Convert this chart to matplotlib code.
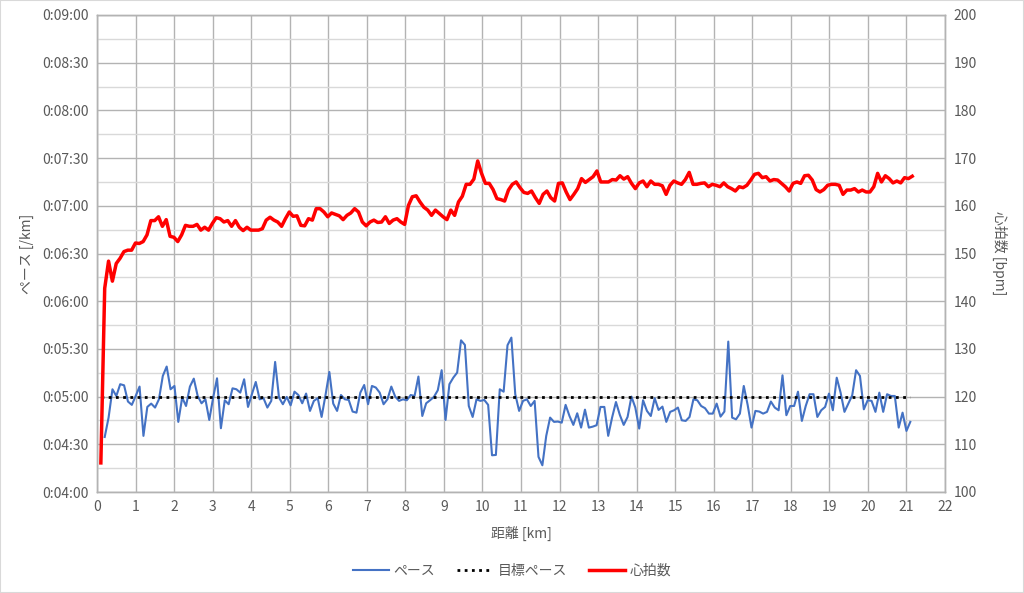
import numpy as np
import matplotlib
matplotlib.use("Agg")
import matplotlib.pyplot as plt
from matplotlib.ticker import FuncFormatter, MultipleLocator
from matplotlib.patches import Rectangle

plt.rcParams['font.family'] = ['Noto Sans CJK JP', 'DejaVu Sans']

# Pace [s/km], samples every ~0.1 km starting at 0.2 km
pace = [
    274.6, 286.8, 304.6, 300.4, 307.8, 307.1, 296.9, 294.8, 300.4, 306.3,
    275.3, 293.5, 295.6, 293.1, 298.3, 313.0, 318.9, 304.6, 306.7, 284.1,
    299.4, 294.1, 306.3, 311.3, 300.4, 295.8, 298.3, 285.3, 299.4, 311.5,
    280.1, 297.7, 295.2, 305.2, 304.6, 302.5, 310.9, 293.5, 301.5, 309.2,
    298.3, 299.0, 293.1, 297.3, 321.8, 299.4, 295.2, 299.8, 294.5, 303.1,
    301.0, 295.8, 301.9, 291.0, 297.3, 299.0, 287.2, 300.8, 315.5, 295.6,
    291.0, 301.0, 298.3, 297.9, 290.6, 289.9, 302.5, 307.3, 295.2, 306.7,
    305.7, 302.5, 295.2, 298.3,
    306.3, 300.0, 297.3, 298.3, 297.7, 301.0, 300.4, 312.6, 287.8, 295.8,
    297.7, 299.8, 304.0, 316.6, 285.3, 307.8, 311.9, 315.1, 335.4, 332.5,
    294.1, 287.2, 298.3, 297.3, 297.9, 294.8, 263.1, 263.3, 304.6, 303.1,
    332.3, 337.1, 301.5, 291.0, 297.3, 298.3, 294.1, 297.3, 262.1, 256.8,
    275.3, 286.8, 284.1, 284.3, 283.6, 294.8, 287.8, 282.2, 289.5, 280.5,
    291.8, 280.5, 281.1, 282.0, 293.5, 293.5, 275.3, 286.8, 296.6, 288.5,
    282.2, 287.2, 300.0, 293.1, 279.9, 297.7, 291.0, 287.8, 299.0, 291.6,
    293.7, 284.1, 290.4, 291.4, 293.1,
    285.1, 284.7, 287.2, 298.3, 297.7, 294.1, 292.7, 289.3, 289.3, 295.6,
    287.4, 290.6, 334.6, 286.8, 285.7, 289.3, 306.7, 294.8, 280.5, 291.0,
    290.6, 289.3, 290.4, 296.9, 293.1, 291.4, 313.4, 288.3, 294.1, 294.1,
    303.1, 284.7, 294.1, 301.5, 301.5, 287.2, 291.4, 293.5, 301.9, 291.4,
    311.9, 302.5, 290.4, 295.6, 300.8, 316.6, 313.0, 292.0, 297.7, 297.3,
    290.4, 302.5, 290.4, 301.5, 300.4, 300.4, 280.5, 289.9, 278.4, 284.1,
]

# Heart rate [bpm], samples every ~0.1 km starting at 0.1 km
heart_rate = [
    106.1, 142.7, 148.4, 144.2, 147.9, 149.0, 150.4, 150.7, 150.7, 152.2,
    152.1, 152.5, 153.9, 156.9, 156.9, 157.7, 155.7, 157.1, 153.6, 153.4,
    152.5, 153.9, 155.9, 155.7, 155.7, 156.1, 154.9, 155.5, 154.9, 156.3,
    157.5, 157.3, 156.6, 156.9, 155.7, 156.9, 155.5, 154.8, 155.5, 154.9,
    154.9, 154.9, 155.2,
    157.0, 157.6, 157.0, 156.6, 155.7, 157.3, 158.7, 157.8, 157.9, 155.9,
    155.8, 157.3, 157.0, 159.4, 159.4, 158.7, 157.7, 158.5, 158.2, 157.9,
    157.1, 158.0, 158.5, 159.4, 158.7, 156.6, 155.8, 156.6, 157.0, 156.5,
    156.6, 157.7, 156.3, 157.0, 157.3, 156.6, 156.1, 160.1, 161.9, 162.1,
    160.8, 159.7, 159.1,
    158.0, 159.1, 158.4, 157.7, 157.1, 159.1, 158.0, 160.8, 162.0, 164.5,
    164.5, 165.6, 169.4, 166.8, 164.7, 164.7, 163.4, 161.5, 161.3, 161.0,
    163.3, 164.5, 165.0, 163.8, 162.8, 162.6, 163.1, 161.7, 160.5, 162.4,
    163.1, 161.7, 161.0, 164.7, 164.8, 162.9, 161.3, 162.4, 163.6, 165.7,
    164.9, 165.5, 166.1,
    167.3, 165.0, 165.0, 165.0, 165.5, 165.4, 166.3, 165.6, 166.1, 164.7,
    163.6, 164.8, 165.2, 164.0, 165.2, 164.5, 164.5, 164.2, 162.4, 164.3,
    165.2, 164.8, 164.5, 165.5, 167.0, 164.5, 164.5, 164.7, 164.8, 164.0,
    164.5, 164.3, 164.0, 164.8, 164.0, 163.6, 163.1, 164.0, 163.8, 164.3,
    165.4, 166.6, 166.8,
    165.9, 166.1, 165.2, 165.5, 165.4, 164.7, 164.0, 163.1, 164.7, 165.0,
    164.7, 166.3, 166.4, 165.4, 163.4, 162.9, 163.4, 164.3, 164.5, 164.5,
    164.3, 162.4, 163.3, 163.3, 163.6, 162.9, 163.3, 162.9, 162.9, 164.0,
    166.8, 165.0, 166.3, 165.7, 164.8, 165.2, 164.8, 165.9, 165.7, 166.2,
]

target_pace = 300  # 0:05:00 /km
pace_start_km, pace_end_km = 0.2, 21.1
hr_start_km, hr_end_km = 0.1, 21.15
target_km = [0.1, 21.1]

x_ticks = list(range(0, 23))
pace_ticks = list(range(240, 541, 30))
hr_ticks = list(range(100, 201, 10))

legend_labels = ["ペース", "目標ペース", "心拍数"]

pace_km = np.linspace(pace_start_km, pace_end_km, len(pace))
hr_km = np.linspace(hr_start_km, hr_end_km, len(heart_rate))

W, H = 1024, 593
fig = plt.figure(figsize=(W / 100, H / 100), dpi=100)
ax = fig.add_axes([97 / W, 1 - 492 / H, (945 - 97) / W, (492 - 15) / H])
ax2 = ax.twinx()

grid_major = "#B3B3B3"
grid_minor = "#D9D9D9"
txt = "#595959"

ax.set_xlim(0, 22)
ax.set_ylim(240, 540)
ax2.set_ylim(100, 200)

ax.set_xticks(x_ticks)
ax.set_yticks(pace_ticks)
ax.yaxis.set_minor_locator(MultipleLocator(15))
ax2.set_yticks(hr_ticks)

ax.yaxis.set_major_formatter(FuncFormatter(lambda v, p: "0:%02d:%02d" % (int(v) // 60, int(v) % 60)))

ax.grid(True, which="major", axis="both", color=grid_major, lw=1.0)
ax.grid(True, which="minor", axis="y", color=grid_minor, lw=1.0)
ax.set_axisbelow(True)

for a in (ax, ax2):
    for s in a.spines.values():
        s.set_color(grid_major)
        s.set_linewidth(1.0)
    a.tick_params(length=0, colors=txt, labelsize=10)
ax.tick_params(axis="y", which="minor", length=0)
ax.tick_params(axis="x", pad=6)
ax.tick_params(axis="y", pad=6)
ax2.tick_params(axis="y", pad=6)

l1, = ax.plot(pace_km, pace, color="#4472C4", lw=1.5, zorder=3)
l2, = ax.plot(target_km, [target_pace, target_pace], color="black", lw=2.0,
              linestyle=(0, (1, 1.6)), zorder=4)
l3, = ax2.plot(hr_km, heart_rate, color="#FF0000", lw=2.5, zorder=5)

ax.set_xlabel("距離 [km]", color=txt, fontsize=10, labelpad=8)
ax.set_ylabel("ペース [/km]", color=txt, fontsize=10, labelpad=6)
ax2.set_ylabel("心拍数 [bpm]", color=txt, fontsize=10, rotation=270, labelpad=22)

fig.legend([l1, l2, l3], legend_labels, loc="center", bbox_to_anchor=(0.5, 1 - 571 / H),
           ncol=3, frameon=False, fontsize=10, labelcolor=txt, handlelength=2.6,
           columnspacing=1.6, handletextpad=0.3)

fig.patches.append(Rectangle((0, 0), 1, 1, transform=fig.transFigure, fill=False,
                             edgecolor="#D9D9D9", lw=1.5))

fig.savefig("out.png", dpi=100)
